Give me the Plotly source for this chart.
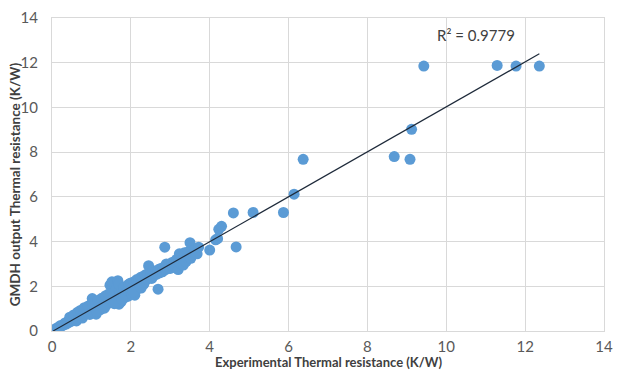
import numpy as np
import plotly.graph_objects as go

# Experimental thermal resistance (K/W) vs GMDH output (K/W)
exp_x = [0.03, 0.06, 0.10, 0.13, 0.17, 0.20, 0.22, 0.26, 0.30, 0.33, 0.36, 0.40, 0.42, 0.46, 0.48,
         0.52, 0.55, 0.58, 0.60, 0.63, 0.66, 0.68, 0.70, 0.73, 0.75, 0.78, 0.80, 0.83, 0.85, 0.88,
         0.90, 0.93, 0.95, 0.98, 1.00, 1.02, 1.05, 1.08, 1.10, 1.12, 1.15, 1.18, 1.20, 1.22, 1.25,
         1.28, 1.30, 1.32, 1.35, 1.38, 1.40, 1.42, 1.45, 1.47, 1.48, 1.50, 1.52, 1.55, 1.57, 1.60,
         1.62, 1.65, 1.67, 1.69, 1.70, 1.72, 1.75, 1.77, 1.80, 1.82, 1.85, 1.88, 1.90, 1.92, 1.95,
         1.98, 2.00, 2.02, 2.05, 2.08, 2.10, 2.12, 2.15, 2.18, 2.20, 2.22, 2.25, 2.28, 2.30, 2.33,
         2.36, 2.40, 2.42, 2.45, 2.48, 2.50, 2.53, 2.56, 2.60, 2.63, 2.66, 2.69, 2.70, 2.73, 2.76,
         2.80, 2.83, 2.86, 2.88, 2.90, 2.93, 2.96, 3.00, 3.03, 3.06, 3.10, 3.13, 3.16, 3.20, 3.23,
         3.26, 3.30, 3.33, 3.36, 3.40, 3.43, 3.46, 3.50, 3.52, 3.56, 3.60, 3.63, 3.68, 3.72,
         0.45, 0.55, 0.65, 0.72, 0.82, 0.92, 1.04, 1.16, 1.26, 1.36, 1.44, 0.62, 0.77, 0.96, 1.13,
         1.33, 1.58, 1.78, 2.06, 2.26,
         4.00, 4.15, 4.20, 4.23, 4.30, 4.60, 4.67, 5.10, 5.87, 6.14, 6.37, 8.68, 9.08, 9.12,
         9.43, 11.29, 11.77, 12.36]
gmdh_y = [0.04, 0.05, 0.11, 0.10, 0.18, 0.16, 0.25, 0.24, 0.28, 0.36, 0.31, 0.42, 0.37, 0.50, 0.43,
          0.55, 0.48, 0.62, 0.52, 0.68, 0.60, 0.74, 0.63, 0.80, 0.68, 0.85, 0.72, 0.90, 0.76, 0.96,
          0.80, 1.00, 0.86, 1.08, 0.90, 1.45, 1.12, 0.95, 1.20, 0.75, 1.05, 1.28, 1.10, 0.95, 1.35,
          1.15, 1.40, 1.05, 1.30, 1.55, 1.20, 1.45, 1.30, 2.05, 1.60, 1.35, 2.20, 1.50, 1.70, 1.40,
          1.85, 1.55, 2.25, 2.10, 1.20, 1.65, 1.30, 1.85, 1.60, 1.95, 1.50, 2.00, 1.75, 1.55, 2.10,
          1.85, 2.15, 1.65, 1.95, 2.20, 1.60, 2.05, 2.30, 1.90, 2.25, 2.05, 2.40, 2.15, 2.35, 2.10,
          2.50, 2.30, 2.55, 2.92, 2.40, 2.60, 2.35, 2.70, 2.50, 2.65, 2.55, 1.87, 2.75, 2.60, 2.80,
          2.65, 2.85, 3.75, 2.75, 3.00, 2.80, 2.95, 2.80, 3.05, 2.90, 3.10, 2.85, 3.20, 2.75, 3.45,
          3.00, 3.30, 2.95, 3.50, 3.10, 3.30, 3.55, 3.95, 3.25, 3.40, 3.55, 3.65, 3.45, 3.75,
          0.62, 0.72, 0.84, 0.92, 1.04, 1.12, 1.22, 1.36, 1.46, 1.58, 1.66, 0.45, 0.58, 0.74, 0.88,
          1.02, 1.22, 1.40, 1.75, 1.92,
          3.62, 4.08, 4.13, 4.55, 4.68, 5.28, 3.76, 5.30, 5.30, 6.12, 7.68, 7.80, 7.68, 9.02,
          11.85, 11.88, 11.85, 11.85]

r2_label = "R² = 0.9779"
x_ticks = [0, 2, 4, 6, 8, 10, 12, 14]
y_ticks = [0, 2, 4, 6, 8, 10, 12, 14]

xa = np.array(exp_x)
ya = np.array(gmdh_y)
slope, intercept = np.polyfit(xa, ya, 1)
fit_x = np.array([xa.min(), xa.max()])
fit_y = slope * fit_x + intercept

fig = go.Figure()
fig.add_trace(go.Scatter(x=exp_x, y=gmdh_y, mode="markers",
                         marker=dict(color="#5B9BD5", size=11, line=dict(width=0)),
                         showlegend=False, hoverinfo="x+y"))
fig.add_trace(go.Scatter(x=fit_x, y=fit_y, mode="lines",
                         line=dict(color="#1e2a3a", width=1.2),
                         showlegend=False, hoverinfo="skip"))

font_family = "Lato, 'Open Sans', sans-serif"
axis_common = dict(range=[0, 14], tickvals=x_ticks, showgrid=True, gridcolor="#d9d9d9",
                   gridwidth=1, zeroline=False, showline=True, linecolor="#d9d9d9",
                   linewidth=1, mirror=True, ticks="",
                   tickfont=dict(family=font_family, size=15, color="#595959"))

fig.update_layout(
    width=621, height=371,
    margin=dict(l=52, r=8, t=13, b=40),
    paper_bgcolor="white", plot_bgcolor="white",
    xaxis=dict(**axis_common, ticklabelstandoff=2),
    yaxis=dict(**{**axis_common, "tickvals": y_ticks}, ticklabelstandoff=10),
    annotations=[
        dict(text="Experimental Thermal resistance (K/W)", xref="paper", yref="paper",
             x=0.5, y=-0.098, xanchor="center", yanchor="middle", showarrow=False,
             font=dict(family=font_family, size=13, color="#404040", weight="bold")),
        dict(text="GMDH output Thermal resistance (K/W)", xref="paper", yref="paper",
             x=-0.068, y=0.47, xanchor="center", yanchor="middle", textangle=-90,
             showarrow=False,
             font=dict(family=font_family, size=13.5, color="#404040", weight="bold")),
        dict(text=r2_label, x=10.75, y=13.25, xref="x", yref="y", showarrow=False,
             xanchor="center", yanchor="middle",
             font=dict(family=font_family, size=15, color="#404040")),
    ],
)

fig.write_html("out.html")
